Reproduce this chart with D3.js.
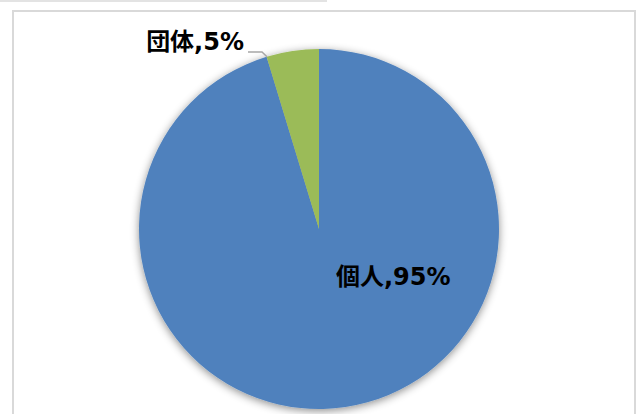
<!DOCTYPE html>
<html>
<head>
<meta charset="utf-8">
<script src="https://cdn.jsdelivr.net/npm/d3@7"></script>
<style>
  body { margin: 0; background: #fff; }
  svg { display: block; }
</style>
</head>
<body>
<div id="chart-container"></div>
<script>
// 個人 / 団体 の割合
const categories = ["個人", "団体"];
const shares = [95.3, 4.7];
const colors = ["#4f81bd", "#9bbb59"];

const width = 642, height = 414;
const cx = 319, cy = 229, r = 180;

const svg = d3.select("#chart-container")
  .append("svg")
  .attr("width", width)
  .attr("height", height);

const defs = svg.append("defs");
const f = defs.append("filter").attr("id", "shadow")
  .attr("x", "-20%").attr("y", "-20%").attr("width", "140%").attr("height", "140%");
f.append("feDropShadow")
  .attr("dx", 0).attr("dy", 2)
  .attr("stdDeviation", 4)
  .attr("flood-color", "#000")
  .attr("flood-opacity", 0.45);

// frame
svg.append("rect")
  .attr("x", 0).attr("y", 0).attr("width", 327).attr("height", 2)
  .attr("fill", "#e3e3e3");
svg.append("rect")
  .attr("x", 13).attr("y", 11).attr("width", 622).attr("height", 420)
  .attr("fill", "#fff")
  .attr("stroke", "#d9d9d9").attr("stroke-width", 2);

const data = categories.map((c, i) => ({ cat: c, value: shares[i], color: colors[i] }));

// clockwise from 12 o'clock: 個人 first, 団体 last
const pie = d3.pie().sort(null).value(d => d.value);
const arcs = pie(data);
const arc = d3.arc().innerRadius(0).outerRadius(r);

const g = svg.append("g").attr("transform", `translate(${cx},${cy})`);

g.append("g").attr("filter", "url(#shadow)")
  .selectAll("path")
  .data(arcs)
  .join("path")
    .attr("d", arc)
    .attr("fill", d => d.data.color);

const fmt = v => Math.round(v) + "%";
const font = "'DejaVu Sans', 'Noto Sans CJK JP', sans-serif";

// 個人 label inside
const a0 = arcs[0];
g.append("text")
  .attr("x", 17).attr("y", 56)
  .attr("font-family", font)
  .attr("font-size", 24)
  .attr("font-weight", "bold")
  .attr("fill", "#000")
  .text(`${a0.data.cat},${fmt(a0.data.value)}`);

// 団体 label outside with leader
const a1 = arcs[1];
const pt = [r * Math.sin(a1.startAngle + 0.002), -r * Math.cos(a1.startAngle + 0.002)];
const lead = d3.line()([[-71, -177], [-57, -177], pt]);
g.append("path")
  .attr("d", lead)
  .attr("fill", "none")
  .attr("stroke", "#a6a6a6")
  .attr("stroke-width", 1.5);

g.append("text")
  .attr("x", -75).attr("y", -179)
  .attr("text-anchor", "end")
  .attr("font-family", font)
  .attr("font-size", 24)
  .attr("font-weight", "bold")
  .attr("fill", "#000")
  .text(`${a1.data.cat},${fmt(a1.data.value)}`);
</script>
</body>
</html>
